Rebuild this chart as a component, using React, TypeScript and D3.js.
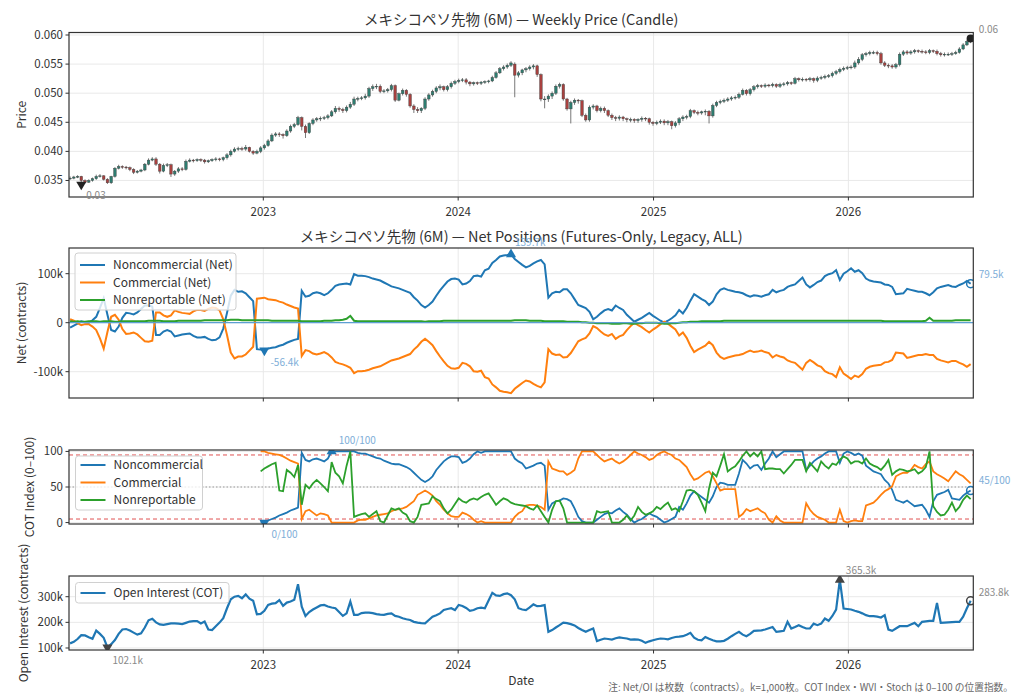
import * as React from "react";
import * as d3 from "d3";

// weekly bars, first one on 2022-01-04
const START = new Date(Date.UTC(2022, 0, 4));
const COT_START = 51; // COT index series begin at week 51

// price in units of 1e-4
const priceOpen = [
  353, 354, 356, 357, 350, 347, 350, 353, 357, 358,
  352, 346, 357, 371, 374, 373, 372, 369, 364, 366,
  368, 378, 385, 387, 378, 366, 376, 377, 361, 366,
  370, 369, 383, 385, 384, 386, 385, 382, 384, 386,
  387, 386, 389, 394, 400, 404, 405, 404, 407, 400,
  397, 400, 406, 410, 418, 428, 430, 429, 427, 435,
  443, 446, 458, 443, 432, 448, 454, 456, 457, 458,
  461, 468, 474, 472, 470, 476, 481, 490, 491, 492,
  495, 508, 511, 512, 503, 504, 506, 513, 488, 499,
  505, 498, 478, 472, 470, 474, 490, 497, 503, 509,
  511, 506, 511, 517, 520, 522, 523, 519, 516, 518,
  517, 519, 520, 521, 527, 535, 542, 545, 548, 550,
  531, 535, 540, 542, 545, 547, 532, 490, 490, 495,
  500, 512, 515, 490, 473, 484, 488, 487, 462, 454,
  476, 478, 470, 474, 470, 462, 458, 457, 459, 456,
  455, 455, 453, 455, 457, 456, 450, 448, 450, 452,
  449, 451, 444, 449, 456, 459, 460, 470, 467, 466,
  468, 469, 461, 479, 484, 486, 488, 490, 492, 493,
  498, 505, 499, 506, 511, 513, 512, 514, 513, 515,
  512, 515, 516, 518, 517, 525, 523, 524, 523, 525,
  522, 526, 527, 529, 530, 534, 537, 541, 543, 544,
  545, 552, 558, 566, 568, 570, 570, 568, 552, 548,
  547, 545, 549, 567, 571, 569, 571, 573, 572, 571,
  570, 573, 572, 568, 566, 567, 567, 568, 570, 576,
  583, 589,
];
const priceHigh = [
  357, 358, 359, 358, 352, 352, 355, 360, 361, 359,
  354, 358, 373, 377, 376, 375, 374, 371, 368, 370,
  380, 388, 390, 390, 380, 379, 380, 379, 368, 373,
  373, 386, 388, 387, 388, 388, 387, 386, 388, 390,
  389, 391, 397, 403, 407, 408, 408, 411, 408, 402,
  403, 409, 413, 421, 431, 433, 433, 431, 438, 446,
  449, 461, 460, 446, 450, 457, 459, 460, 461, 464,
  471, 478, 477, 475, 479, 485, 494, 494, 495, 499,
  511, 515, 516, 515, 507, 509, 516, 515, 501, 508,
  507, 500, 481, 476, 476, 493, 500, 506, 512, 515,
  513, 514, 520, 523, 525, 526, 526, 521, 520, 520,
  521, 522, 523, 530, 538, 545, 548, 551, 555, 553,
  538, 542, 545, 548, 550, 549, 534, 495, 498, 503,
  515, 518, 517, 492, 487, 491, 490, 489, 465, 479,
  481, 480, 477, 477, 472, 465, 461, 462, 461, 458,
  458, 457, 457, 460, 459, 458, 452, 453, 455, 455,
  454, 453, 452, 459, 462, 463, 473, 472, 470, 470,
  472, 471, 482, 487, 489, 491, 493, 495, 496, 501,
  508, 507, 509, 514, 516, 515, 517, 516, 518, 517,
  518, 519, 521, 520, 528, 527, 527, 526, 528, 527,
  529, 530, 532, 533, 537, 540, 544, 546, 547, 548,
  556, 562, 569, 571, 573, 573, 573, 571, 555, 551,
  550, 552, 570, 574, 574, 574, 576, 575, 575, 574,
  576, 575, 575, 571, 570, 570, 571, 573, 579, 586,
  592, 598,
];
const priceLow = [
  351, 352, 354, 343, 345, 346, 348, 351, 355, 350,
  344, 344, 355, 369, 370, 369, 366, 361, 362, 364,
  366, 376, 383, 375, 362, 364, 373, 356, 358, 363,
  366, 367, 381, 381, 382, 382, 379, 380, 382, 383,
  383, 383, 386, 391, 398, 401, 401, 401, 398, 394,
  395, 397, 403, 408, 416, 425, 425, 422, 425, 432,
  440, 444, 436, 423, 430, 445, 451, 452, 454, 455,
  459, 465, 468, 466, 467, 473, 478, 486, 488, 489,
  492, 504, 507, 500, 500, 501, 503, 485, 486, 496,
  494, 475, 466, 466, 466, 471, 487, 494, 500, 505,
  503, 503, 508, 514, 517, 519, 515, 512, 513, 514,
  514, 516, 517, 519, 525, 533, 539, 542, 545, 493,
  527, 531, 536, 539, 541, 528, 486, 474, 485, 490,
  497, 508, 487, 470, 448, 480, 482, 459, 451, 451,
  472, 467, 467, 466, 459, 454, 452, 453, 452, 450,
  450, 449, 449, 451, 452, 446, 444, 445, 447, 445,
  445, 438, 441, 445, 452, 455, 457, 464, 462, 463,
  462, 448, 458, 476, 481, 483, 485, 487, 489, 490,
  496, 496, 496, 503, 508, 509, 509, 510, 510, 509,
  509, 512, 513, 514, 515, 520, 520, 520, 520, 518,
  519, 523, 524, 526, 527, 531, 534, 538, 540, 541,
  542, 549, 555, 563, 565, 567, 565, 549, 545, 543,
  542, 542, 546, 564, 566, 566, 568, 569, 568, 567,
  567, 569, 565, 563, 563, 564, 564, 566, 568, 574,
  581, 586,
];
const priceClose = [
  354, 356, 357, 350, 347, 350, 353, 357, 358, 352,
  346, 357, 371, 374, 373, 372, 369, 364, 366, 368,
  378, 385, 387, 378, 366, 376, 377, 361, 366, 370,
  369, 383, 385, 384, 386, 385, 382, 384, 386, 387,
  386, 389, 394, 400, 404, 405, 404, 407, 400, 397,
  400, 406, 410, 418, 428, 430, 429, 427, 435, 443,
  446, 458, 443, 432, 448, 454, 456, 457, 458, 461,
  468, 474, 472, 470, 476, 481, 490, 491, 492, 495,
  508, 511, 512, 503, 504, 506, 513, 488, 499, 505,
  498, 478, 472, 470, 474, 490, 497, 503, 509, 511,
  506, 511, 517, 520, 522, 523, 519, 516, 518, 517,
  519, 520, 521, 527, 535, 542, 545, 548, 552, 531,
  535, 540, 542, 545, 547, 532, 490, 490, 495, 500,
  512, 515, 490, 473, 484, 488, 487, 462, 454, 476,
  478, 470, 474, 470, 462, 458, 457, 459, 456, 455,
  455, 453, 455, 457, 456, 450, 448, 450, 452, 449,
  451, 444, 449, 456, 459, 460, 470, 467, 466, 468,
  469, 461, 479, 484, 486, 488, 490, 492, 493, 498,
  505, 499, 506, 511, 513, 512, 514, 513, 515, 512,
  515, 516, 518, 517, 525, 523, 524, 523, 525, 522,
  526, 527, 529, 530, 534, 537, 541, 543, 544, 545,
  552, 558, 566, 568, 570, 570, 568, 552, 548, 547,
  545, 549, 567, 571, 569, 571, 573, 572, 571, 570,
  573, 572, 568, 566, 567, 567, 568, 570, 576, 583,
  589, 594,
];

// net positions, thousands of contracts
const netNonComm = [
  -10, -6, -2, 3, 1, 0, 5, 12, 30, 50,
  16, -15, -18, -8, 10, 20, 19, 17, 21, 28,
  35, 35, 33, -25, -25, -18, -15, -18, -28, -26,
  -24, -23, -22, -27, -30, -30, -29, -33, -36, -35,
  -30, -12, 20, 55, 67, 63, 64, 60, 52, 44,
  -54, -55, -56.4, -53, -51, -50, -47, -45, -41, -38,
  -35, -33, 65, 53, 55, 60, 62, 60, 56, 60,
  67, 75, 78, 79, 80, 78, 99, 96, 96, 95,
  93, 90, 88, 86, 82, 78, 74, 72, 70, 67,
  64, 61, 52, 45, 36, 31, 36, 43, 55, 66,
  75, 84, 89, 90, 88, 78, 80, 85, 95, 96,
  94, 107, 110, 122, 128, 135, 137, 138, 139.7, 130,
  124, 118, 113, 116, 121, 125, 128, 119, 51, 60,
  63, 62, 68, 68, 60, 48, 36, 33, 30, 22,
  7, 12, 19, 25, 28, 25, 35, 30, 26, 16,
  9, 2, 6, 10, 15, 20, 14, 9, 4, 0,
  4, 9, 15, 26, 19, 30, 45, 58, 53, 48,
  44, 36, 43, 58, 67, 70, 67, 65, 63, 62,
  60, 56, 53, 56, 55, 53, 56, 58, 67, 62,
  65, 67, 73, 76, 78, 85, 92, 78, 72, 77,
  83, 86, 95, 99, 101, 107, 87, 100, 105, 111,
  104, 107, 101, 90, 86, 84, 83, 82, 78, 77,
  73, 58, 59, 60, 69, 67, 65, 63, 63, 60,
  56, 62, 70, 73, 75, 77, 74, 73, 77, 80,
  85, 79.5,
];
const netComm = [
  7, 4, -1, -5, -3, -3, -8, -15, -32, -53,
  -19, 12, 16, 6, -13, -23, -22, -20, -24, -31,
  -38, -39, -37, 21, 21, 15, 12, 15, 25, 22,
  20, 19, 18, 23, 26, 26, 24, 28, 31, 30,
  25, 7, -25, -61, -73, -69, -69, -65, -57, -49,
  49, 50, 51, 48, 47, 46, 43, 41, 37, 34,
  31, 29, -68, -56, -58, -63, -65, -63, -60, -64,
  -71, -80, -83, -85, -88, -92, -103, -99, -99, -98,
  -96, -93, -91, -89, -85, -81, -77, -75, -73, -70,
  -67, -64, -55, -48, -39, -33, -39, -46, -58, -69,
  -79, -88, -93, -94, -92, -82, -84, -89, -99, -100,
  -98, -111, -114, -126, -132, -139, -141, -142, -144, -135,
  -129, -123, -118, -120, -125, -129, -132, -122, -54, -63,
  -66, -65, -71, -70, -62, -50, -38, -34, -31, -22,
  -7, -11, -18, -24, -27, -23, -33, -28, -25, -15,
  -7, 0, -5, -9, -15, -20, -14, -9, -3, 2,
  -2, -8, -14, -26, -20, -31, -47, -60, -55, -51,
  -47, -39, -46, -61, -70, -74, -71, -69, -67, -66,
  -64, -60, -57, -60, -59, -57, -60, -62, -71, -66,
  -69, -71, -77, -80, -82, -89, -96, -82, -76, -81,
  -87, -90, -99, -103, -105, -111, -91, -104, -109, -115,
  -108, -111, -105, -94, -90, -88, -87, -86, -81, -80,
  -76, -61, -62, -63, -72, -70, -68, -66, -66, -64,
  -66, -66, -74, -77, -79, -81, -78, -78, -82, -85,
  -90, -84.5,
];
const netNonRep = [
  3, 2, 3, 2, 2, 3, 3, 3, 2, 3,
  3, 3, 2, 2, 3, 3, 3, 3, 3, 3,
  3, 4, 4, 4, 4, 3, 3, 3, 3, 4,
  4, 4, 4, 4, 4, 4, 5, 5, 5, 5,
  5, 5, 5, 6, 6, 6, 5, 5, 5, 5,
  5, 5, 5, 5, 4, 4, 4, 4, 4, 4,
  4, 4, 3, 3, 3, 3, 3, 3, 4, 4,
  4, 5, 5, 6, 8, 14, 4, 3, 3, 3,
  3, 3, 3, 3, 3, 3, 3, 3, 3, 3,
  3, 3, 3, 3, 3, 2, 3, 3, 3, 3,
  4, 4, 4, 4, 4, 4, 4, 4, 4, 4,
  4, 4, 4, 4, 4, 4, 4, 4, 4, 5,
  5, 5, 5, 4, 4, 4, 4, 3, 3, 3,
  3, 3, 3, 2, 2, 2, 2, 1, 1, 0,
  0, -1, -1, -1, -1, -2, -2, -2, -1, -1,
  -2, -2, -1, -1, 0, 0, 0, 0, -1, -2,
  -2, -1, -1, 0, 1, 1, 2, 2, 2, 3,
  3, 3, 3, 3, 3, 4, 4, 4, 4, 4,
  4, 4, 4, 4, 4, 4, 4, 4, 4, 4,
  4, 4, 4, 4, 4, 4, 4, 4, 4, 4,
  4, 4, 4, 4, 4, 4, 4, 4, 4, 4,
  4, 4, 4, 4, 4, 4, 4, 4, 3, 3,
  3, 3, 3, 3, 3, 3, 3, 3, 3, 4,
  10, 4, 4, 4, 4, 4, 4, 5, 5, 5,
  5, 5,
];

// COT index 0-100, from week COT_START
const cotNonComm = [
  1, 0, 3, 5, 7, 10, 12, 14, 17, 19,
  21, 98, 88, 86, 89, 90, 88, 86, 90, 100,
  100, 100, 100, 100, 100, 100, 98, 97, 97, 95,
  93, 91, 90, 87, 85, 83, 82, 82, 80, 78,
  75, 70, 65, 60, 57, 60, 65, 74, 80, 86,
  90, 93, 93, 92, 84, 86, 90, 96, 100, 98,
  100, 100, 100, 100, 100, 100, 100, 100, 90, 86,
  83, 76, 78, 80, 83, 84, 80, 18, 27, 30,
  31, 34, 33, 30, 20, 8, 2, 0, 0, 0,
  4, 8, 12, 14, 13, 17, 20, 15, 11, 5,
  0, 3, 5, 9, 13, 10, 8, 4, 0, 2,
  5, 8, 22, 18, 27, 38, 44, 40, 36, 32,
  28, 37, 50, 56, 55, 53, 53, 53, 69, 88,
  83, 76, 80, 81, 74, 83, 90, 100, 92, 96,
  100, 100, 100, 100, 100, 100, 74, 80, 86, 90,
  93, 97, 100, 100, 100, 84, 97, 100, 98, 95,
  97, 94, 80, 76, 72, 70, 68, 60, 55, 46,
  32, 30, 28, 31, 27, 23, 24, 25, 18, 8,
  30, 39, 41, 43, 46, 34, 33, 32, 38, 42,
  45,
];
const cotComm = [
  100, 100, 98, 97, 96, 95, 93, 90, 87, 85,
  83, 5, 16, 18, 14, 10, 13, 12, 10, 0,
  0, 0, 0, 0, 0, 0, 3, 4, 4, 6,
  8, 10, 11, 12, 13, 16, 18, 19, 20, 22,
  26, 30, 39, 42, 45, 42, 38, 30, 25, 18,
  13, 9, 8, 8, 14, 12, 9, 4, 0, 2,
  0, 0, 0, 0, 0, 0, 0, 0, 8, 13,
  16, 24, 25, 25, 24, 22, 18, 86, 76, 74,
  72, 72, 67, 70, 74, 90, 100, 100, 100, 100,
  95, 90, 86, 88, 90, 86, 83, 86, 90, 95,
  100, 97, 95, 92, 88, 90, 95, 98, 100, 97,
  95, 90, 88, 83, 78, 68, 60, 62, 66, 70,
  72, 65, 55, 45, 47, 47, 47, 47, 8, 12,
  19, 16, 18, 20, 16, 13, 4, 0, 9, 3,
  0, 0, 0, 0, 0, 0, 27, 18, 12, 8,
  6, 4, 0, 0, 0, 18, 2, 0, 2, 3,
  2, 2, 24, 26, 28, 33, 39, 44, 47, 51,
  65, 68, 70, 70, 74, 81, 78, 76, 82, 86,
  72, 68, 65, 62, 58, 65, 72, 68, 65, 60,
  55,
];
const cotNonRep = [
  72, 76, 79, 82, 84, 45, 44, 74, 70, 64,
  81, 25, 53, 48, 55, 60, 55, 50, 44, 85,
  70, 65, 55, 80, 100, 8, 10, 12, 13, 8,
  12, 16, 2, 0, 10, 20, 18, 20, 14, 11,
  2, 0, 8, 25, 26, 27, 37, 33, 30, 20,
  13, 18, 26, 34, 30, 28, 32, 34, 32, 36,
  39, 41, 33, 25, 30, 34, 32, 28, 26, 25,
  24, 23, 20, 18, 24, 16, 8, 0, 18, 30,
  31, 20, 0, 0, 0, 0, 0, 0, 0, 0,
  16, 14, 15, 16, 0, 0, 0, 4, 10, 3,
  10, 22, 15, 11, 13, 16, 22, 19, 24, 28,
  18, 20, 16, 30, 45, 46, 44, 39, 28, 16,
  48, 70, 65, 80, 96, 72, 76, 79, 86, 94,
  100, 93, 98, 93, 100, 75, 76, 76, 75, 75,
  69, 75, 81, 88, 88, 88, 72, 84, 78, 72,
  86, 80, 76, 83, 81, 88, 93, 90, 83, 86,
  86, 83, 90, 83, 80, 78, 74, 80, 88, 67,
  72, 75, 74, 72, 73, 75, 69, 72, 78, 100,
  23, 15, 10, 11, 18, 28, 16, 22, 32, 38,
  33,
];

// open interest, thousands of contracts
const openInterest = [
  118, 124, 135, 150, 149, 142, 136, 168, 155, 140,
  102.1, 115, 131, 155, 172, 174, 168, 160, 152, 157,
  180, 208, 214, 200, 192, 190, 193, 196, 196, 195,
  193, 198, 203, 205, 205, 196, 203, 172, 170, 185,
  199, 216, 255, 290, 300, 303, 294, 309, 292, 284,
  231, 233, 245, 268, 273, 275, 287, 264, 277, 281,
  288, 349, 261, 225, 240, 250, 258, 266, 268, 262,
  258, 255, 240, 225, 235, 281, 229, 229, 236, 238,
  238, 236, 232, 230, 229, 233, 235, 225, 222, 216,
  212, 209, 202, 199, 197, 196, 209, 222, 228, 235,
  248, 252, 255, 248, 268, 264, 256, 245, 248, 255,
  257, 255, 285, 315, 305, 303, 310, 313, 306, 290,
  255, 250, 248, 258, 270, 263, 264, 267, 163, 170,
  180, 189, 199, 197, 193, 188, 178, 170, 163, 170,
  176, 127, 132, 137, 135, 133, 138, 141, 139, 137,
  133, 134, 133, 128, 120, 126, 130, 134, 137, 136,
  134, 139, 143, 144, 146, 152, 159, 140, 132, 130,
  143, 136, 130, 126, 126, 128, 136, 146, 155, 163,
  152, 146, 155, 167, 168, 169, 172, 177, 182, 163,
  165, 167, 202, 176, 182, 189, 182, 176, 176, 195,
  189, 195, 215, 206, 225, 250, 365.3, 254, 252, 250,
  245, 241, 235, 228, 224, 224, 222, 219, 228, 172,
  167, 176, 185, 185, 185, 192, 198, 185, 202, 204,
  206, 206, 276, 198, 199, 200, 201, 202, 202, 222,
  255, 283.8,
];

const W = 1024;
const H = 699;
const LEFT = 69;
const RIGHT = 973.3;
const FONT = "'Noto Sans CJK JP', 'Noto Sans', sans-serif";
const C0 = "#1f77b4";
const C1 = "#ff7f0e";
const C2 = "#2ca02c";
const UP = "#2e7d70";
const DOWN = "#a8413f";
const NOTE_BLUE = "#7eaed8";
const NOTE_GRAY = "#8a8a8a";
const TICK_SIZE = 11.5;
const TITLE_SIZE = 14.5;

const dates = d3.range(priceClose.length).map((i) => d3.utcDay.offset(START, i * 7));
const x = d3
  .scaleUtc()
  .domain([new Date(Date.UTC(2022, 0, 2)), new Date(Date.UTC(2026, 7, 23))])
  .range([LEFT, RIGHT]);
const yearTicks = x.ticks(d3.utcYear.every(1)!);

const yPrice = d3.scaleLinear().domain([321.6, 604.3]).range([197, 32.5]);
const yNet = d3.scaleLinear().domain([-153.7, 152.4]).range([398, 248]);
const yCot = d3.scaleLinear().domain([-2, 102]).range([524, 450]);
const yOi = d3.scaleLinear().domain([92.2, 380.7]).range([650, 576]);

const triangle = d3.symbol(d3.symbolTriangle, 44)() as string;

const linePath = (vals: number[], y: d3.ScaleLinear<number, number>, offset = 0) =>
  d3
    .line<number>()
    .x((_, i) => x(dates[i + offset]))
    .y((v) => y(v))(vals) as string;

type PanelProps = {
  id: string;
  y: d3.ScaleLinear<number, number>;
  ticks: number[];
  fmt: (v: number) => string;
  label: string;
  labelX: number;
  xLabels?: boolean;
  children?: React.ReactNode;
};

const Panel = ({ id, y, ticks, fmt, label, labelX, xLabels, children }: PanelProps) => {
  const [bottom, top] = y.range();
  return (
    <g>
      <clipPath id={id}>
        <rect x={LEFT} y={top} width={RIGHT - LEFT} height={bottom - top} />
      </clipPath>
      <g stroke="#e6e6e6" strokeWidth={0.9}>
        {yearTicks.map((d) => (
          <line key={+d} x1={x(d)} x2={x(d)} y1={top} y2={bottom} />
        ))}
        {ticks.map((t) => (
          <line key={t} x1={LEFT} x2={RIGHT} y1={y(t)} y2={y(t)} />
        ))}
      </g>
      <g clipPath={`url(#${id})`}>{children}</g>
      <rect x={LEFT} y={top} width={RIGHT - LEFT} height={bottom - top} fill="none" stroke="#333" strokeWidth={1.2} />
      {ticks.map((t) => (
        <g key={t}>
          <line x1={LEFT - 3.5} x2={LEFT} y1={y(t)} y2={y(t)} stroke="#333" />
          <text x={LEFT - 6} y={y(t)} dy="0.35em" textAnchor="end" fontSize={TICK_SIZE} fill="#333">
            {fmt(t)}
          </text>
        </g>
      ))}
      {yearTicks.map((d) => (
        <g key={+d}>
          <line x1={x(d)} x2={x(d)} y1={bottom} y2={bottom + 3.5} stroke="#333" />
          {xLabels && (
            <text x={x(d)} y={bottom + 19} textAnchor="middle" fontSize={TICK_SIZE} fill="#333">
              {d3.utcFormat("%Y")(d)}
            </text>
          )}
        </g>
      ))}
      <text
        transform={`translate(${labelX},${(top + bottom) / 2}) rotate(-90)`}
        textAnchor="middle"
        dy="0.35em"
        fontSize={12}
        fill="#333"
      >
        {label}
      </text>
    </g>
  );
};

type LegendProps = { x0: number; y0: number; w: number; rows: number[]; items: { label: string; color: string }[] };

const Legend = ({ x0, y0, w, rows, items }: LegendProps) => (
  <g>
    <rect
      x={x0}
      y={y0}
      width={w}
      height={rows[rows.length - 1] - y0 + 10}
      rx={3}
      fill="#fff"
      fillOpacity={0.8}
      stroke="#d0d0d0"
    />
    {items.map((it, i) => (
      <g key={it.label}>
        <line x1={x0 + 5} x2={x0 + 30} y1={rows[i]} y2={rows[i]} stroke={it.color} strokeWidth={2} />
        <text x={x0 + 38} y={rows[i]} dy="0.35em" fontSize={12} fill="#333">
          {it.label}
        </text>
      </g>
    ))}
  </g>
);

const Marker = ({ cx, cy, kind, color }: { cx: number; cy: number; kind: "up" | "down" | "dot" | "ring"; color: string }) => {
  if (kind === "dot") return <circle cx={cx} cy={cy} r={4} fill={color} />;
  if (kind === "ring") return <circle cx={cx} cy={cy} r={4} fill="none" stroke={color} strokeWidth={1.5} />;
  return (
    <path d={triangle} transform={`translate(${cx},${cy}) rotate(${kind === "down" ? 180 : 0})`} fill={color} />
  );
};

export default function App() {
  const last = priceClose.length - 1;
  const xl = x(dates[last]);

  const pMin = d3.minIndex(priceLow);
  const nMax = d3.maxIndex(netNonComm);
  const nMin = d3.minIndex(netNonComm);
  const cMax = d3.maxIndex(cotNonComm);
  const cMin = d3.minIndex(cotNonComm);
  const oMax = d3.maxIndex(openInterest);
  const oMin = d3.minIndex(openInterest);
  const cotLast = cotNonComm.length - 1;

  const candles = priceClose.map((c, i) => {
    const o = priceOpen[i];
    const cx = x(dates[i]);
    const yTop = yPrice(Math.max(o, c));
    const yBot = yPrice(Math.min(o, c));
    return (
      <g key={i}>
        <line x1={cx} x2={cx} y1={yPrice(priceHigh[i])} y2={yPrice(priceLow[i])} stroke="#555" strokeWidth={0.8} />
        <rect
          x={cx - 1.3}
          y={yTop}
          width={2.6}
          height={Math.max(0.8, yBot - yTop)}
          fill={c >= o ? UP : DOWN}
          stroke="#3d3d3d"
          strokeWidth={0.4}
        />
      </g>
    );
  });

  const kFmt = (v: number) => (v === 0 ? "0" : `${v}k`);

  return (
    <svg
      width={W}
      height={H}
      style={{ position: "absolute", left: 0, top: 0, background: "#fff" }}
      fontFamily={FONT}
    >
      <rect width={W} height={H} fill="#fff" />

      {/* price */}
      <text x={(LEFT + RIGHT) / 2} y={25} textAnchor="middle" fontSize={TITLE_SIZE} fill="#333">
        メキシコペソ先物 (6M) — Weekly Price (Candle)
      </text>
      <Panel
        id="clip-price"
        y={yPrice}
        ticks={[350, 400, 450, 500, 550, 600]}
        fmt={(v) => (v / 10000).toFixed(3)}
        label="Price"
        labelX={22}
        xLabels
      >
        {candles}
        <Marker cx={x(dates[pMin])} cy={yPrice(priceLow[pMin])} kind="down" color="#222" />
        <Marker cx={xl} cy={yPrice(priceClose[last])} kind="dot" color="#222" />
      </Panel>
      <text x={x(dates[pMin]) + 5} y={yPrice(priceLow[pMin]) + 14} fontSize={10} fill={NOTE_GRAY}>
        {(priceLow[pMin] / 10000).toFixed(2)}
      </text>
      <text x={xl + 8} y={yPrice(priceClose[last]) - 5} fontSize={10} fill={NOTE_GRAY}>
        {(priceClose[last] / 10000).toFixed(2)}
      </text>

      {/* net positions */}
      <text x={(LEFT + RIGHT) / 2} y={242} textAnchor="middle" fontSize={TITLE_SIZE} fill="#333">
        メキシコペソ先物 (6M) — Net Positions (Futures-Only, Legacy, ALL)
      </text>
      <Panel id="clip-net" y={yNet} ticks={[-100, 0, 100]} fmt={kFmt} label="Net (contracts)" labelX={22}>
        <path d={linePath(netNonComm, yNet)} fill="none" stroke={C0} strokeWidth={2} />
        <path d={linePath(netComm, yNet)} fill="none" stroke={C1} strokeWidth={2} />
        <path d={linePath(netNonRep, yNet)} fill="none" stroke={C2} strokeWidth={2} />
        <line x1={LEFT} x2={RIGHT} y1={yNet(0)} y2={yNet(0)} stroke="#5d9fd3" strokeWidth={1.3} />
        <Marker cx={x(dates[nMax])} cy={yNet(netNonComm[nMax])} kind="up" color={C0} />
        <Marker cx={x(dates[nMin])} cy={yNet(netNonComm[nMin])} kind="down" color={C0} />
        <Marker cx={xl} cy={yNet(netNonComm[last])} kind="ring" color={C0} />
      </Panel>
      <Legend
        x0={75}
        y0={253}
        w={161}
        rows={[265, 282.5, 300]}
        items={[
          { label: "Noncommercial (Net)", color: C0 },
          { label: "Commercial (Net)", color: C1 },
          { label: "Nonreportable (Net)", color: C2 },
        ]}
      />
      <text x={x(dates[nMax]) + 4} y={yNet(netNonComm[nMax]) - 8} fontSize={10} fill={NOTE_BLUE}>
        {`${netNonComm[nMax].toFixed(1)}k`}
      </text>
      <text x={x(dates[nMin]) + 6} y={yNet(netNonComm[nMin]) + 16} fontSize={10} fill={NOTE_BLUE}>
        {`${netNonComm[nMin].toFixed(1)}k`}
      </text>
      <text x={xl + 8} y={yNet(netNonComm[last]) - 6} fontSize={10} fill={NOTE_BLUE}>
        {`${netNonComm[last].toFixed(1)}k`}
      </text>

      {/* COT index */}
      <Panel id="clip-cot" y={yCot} ticks={[0, 50, 100]} fmt={(v) => `${v}`} label="COT Index (0–100)" labelX={30}>
        <line x1={LEFT} x2={RIGHT} y1={yCot(95)} y2={yCot(95)} stroke="#e05252" strokeWidth={1} strokeDasharray="4,3" />
        <line x1={LEFT} x2={RIGHT} y1={yCot(5)} y2={yCot(5)} stroke="#e05252" strokeWidth={1} strokeDasharray="4,3" />
        <line x1={LEFT} x2={RIGHT} y1={yCot(50)} y2={yCot(50)} stroke="#999" strokeWidth={1} strokeDasharray="1.5,2" />
        <path d={linePath(cotNonComm, yCot, COT_START)} fill="none" stroke={C0} strokeWidth={1.8} />
        <path d={linePath(cotComm, yCot, COT_START)} fill="none" stroke={C1} strokeWidth={1.8} />
        <path d={linePath(cotNonRep, yCot, COT_START)} fill="none" stroke={C2} strokeWidth={1.8} />
        <Marker cx={x(dates[cMax + COT_START])} cy={yCot(cotNonComm[cMax])} kind="up" color={C0} />
        <Marker cx={x(dates[cMin + COT_START])} cy={yCot(cotNonComm[cMin])} kind="down" color={C0} />
        <Marker cx={xl} cy={yCot(cotNonComm[cotLast])} kind="ring" color={C0} />
      </Panel>
      <Legend
        x0={75.5}
        y0={456}
        w={127}
        rows={[465, 482.5, 500]}
        items={[
          { label: "Noncommercial", color: C0 },
          { label: "Commercial", color: C1 },
          { label: "Nonreportable", color: C2 },
        ]}
      />
      <text x={x(dates[cMax + COT_START]) + 7} y={yCot(cotNonComm[cMax]) - 7} fontSize={10} fill={NOTE_BLUE}>
        {`${cotNonComm[cMax]}/100`}
      </text>
      <text x={x(dates[cMin + COT_START]) + 7} y={yCot(cotNonComm[cMin]) + 15} fontSize={10} fill={NOTE_BLUE}>
        {`${cotNonComm[cMin]}/100`}
      </text>
      <text x={xl + 8} y={yCot(cotNonComm[cotLast]) - 7} fontSize={10} fill={NOTE_BLUE}>
        {`${cotNonComm[cotLast]}/100`}
      </text>

      {/* open interest */}
      <Panel
        id="clip-oi"
        y={yOi}
        ticks={[100, 200, 300]}
        fmt={kFmt}
        label="Open Interest (contracts)"
        labelX={24}
        xLabels
      >
        <path d={linePath(openInterest, yOi)} fill="none" stroke={C0} strokeWidth={2.2} />
        <Marker cx={x(dates[oMax])} cy={yOi(openInterest[oMax])} kind="up" color="#444" />
        <Marker cx={x(dates[oMin])} cy={yOi(openInterest[oMin])} kind="down" color="#444" />
        <Marker cx={xl} cy={yOi(openInterest[last])} kind="ring" color="#444" />
      </Panel>
      <Legend x0={75.5} y0={582.5} w={153.5} rows={[593]} items={[{ label: "Open Interest (COT)", color: C0 }]} />
      <text x={x(dates[oMax]) + 6} y={yOi(openInterest[oMax]) - 6} fontSize={10} fill={NOTE_GRAY}>
        {`${openInterest[oMax].toFixed(1)}k`}
      </text>
      <text x={x(dates[oMin]) + 5} y={yOi(openInterest[oMin]) + 17} fontSize={10} fill={NOTE_GRAY}>
        {`${openInterest[oMin].toFixed(1)}k`}
      </text>
      <text x={xl + 8} y={yOi(openInterest[last]) - 5} fontSize={10} fill={NOTE_GRAY}>
        {`${openInterest[last].toFixed(1)}k`}
      </text>

      <text x={(LEFT + RIGHT) / 2} y={685} textAnchor="middle" fontSize={12} fill="#333">
        Date
      </text>
      <text x={1013} y={691} textAnchor="end" fontSize={9.7} fill="#666">
        注: Net/OI は枚数（contracts）。k=1,000枚。COT Index・WVI・Stoch は 0–100 の位置指数。
      </text>
    </svg>
  );
}
